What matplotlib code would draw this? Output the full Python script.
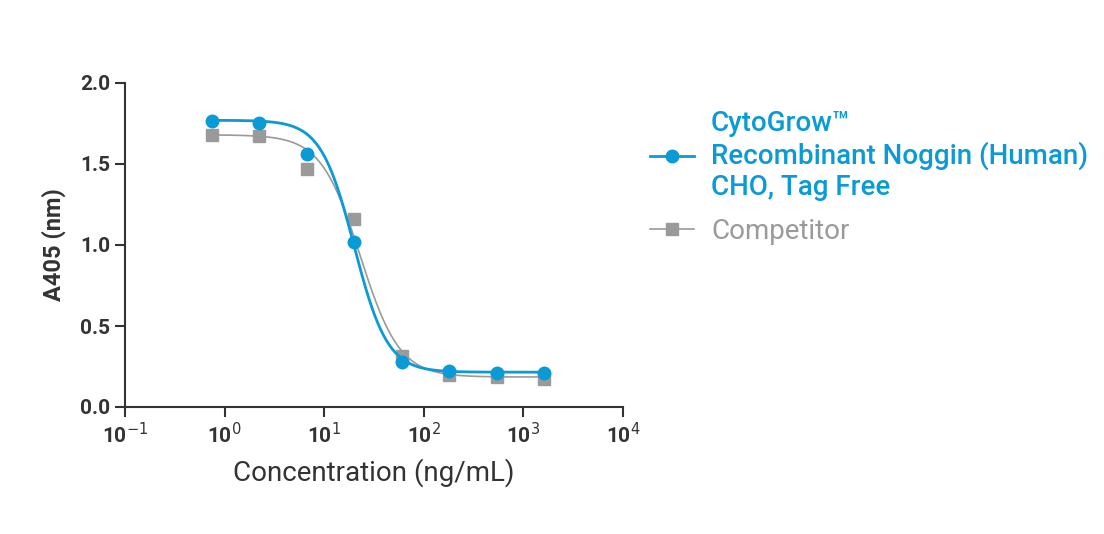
import numpy as np
import matplotlib
matplotlib.use("Agg")
import matplotlib.pyplot as plt

plt.rcParams['font.family'] = ['Roboto', 'DejaVu Sans']

conc = [0.74, 2.2, 6.7, 20, 60, 180, 540, 1620]
cyto = [1.765, 1.75, 1.56, 1.02, 0.28, 0.22, 0.21, 0.21]
comp = [1.68, 1.67, 1.47, 1.16, 0.315, 0.20, 0.185, 0.17]
# 4PL fit parameters (top, bottom, EC50, hill)
cyto_fit = (1.77, 0.215, 20.0, 2.6)
comp_fit = (1.68, 0.185, 23.0, 2.2)

blue = '#0a9ad6'
gray = '#9a9a9a'
dark = '#333333'

def fpl(x, top, bot, ec, h):
    return bot + (top - bot) / (1 + (x / ec) ** h)

fig = plt.figure(figsize=(11.04, 5.34), dpi=100)
ax = fig.add_axes([125/1104, 1-407/534, 498/1104, 324/534])
xs = np.logspace(np.log10(0.74), np.log10(1620), 400)

ax.plot(xs, fpl(xs, *comp_fit), color=gray, lw=1.2)
ax.plot(conc, comp, 's', color=gray, ms=8, label='Competitor')
ax.plot(xs, fpl(xs, *cyto_fit), color=blue, lw=2)
ax.plot(conc, cyto, 'o', color=blue, ms=9,
        label='CytoGrow™\nRecombinant Noggin (Human)\nCHO, Tag Free')

ax.set_xscale('log')
ax.set_xlim(0.1, 1e4)
ax.set_ylim(0, 2.0)
ax.set_yticks([0, 0.5, 1.0, 1.5, 2.0])
ax.set_yticklabels(['0.0', '0.5', '1.0', '1.5', '2.0'])
ax.set_xticks([0.1, 1, 10, 100, 1000, 1e4])
ax.set_xticklabels(['10$^{-1}$', '10$^{0}$', '10$^{1}$', '10$^{2}$', '10$^{3}$', '10$^{4}$'])
ax.minorticks_off()
for s in ['top', 'right']:
    ax.spines[s].set_visible(False)
for s in ['left', 'bottom']:
    ax.spines[s].set_color(dark)
    ax.spines[s].set_linewidth(1.5)
ax.tick_params(colors=dark, width=1.5, length=7, labelsize=15)
for t in ax.get_yticklabels() + ax.get_xticklabels():
    t.set_fontweight('bold')
ax.set_ylabel('A405 (nm)', fontsize=17, fontweight='bold', color=dark, labelpad=10)
ax.set_xlabel('Concentration (ng/mL)', fontsize=20, color=dark, labelpad=8)

# legend drawn manually as a legend
h, l = ax.get_legend_handles_labels()
from matplotlib.lines import Line2D
hb = Line2D([], [], color=blue, lw=2, marker='o', ms=9)
hg = Line2D([], [], color=gray, lw=1.2, marker='s', ms=8)
leg = fig.legend([hb, hg], [l[1], l[0]], loc='upper left',
                 bbox_to_anchor=(625/1104, 1-85/534), frameon=False,
                 fontsize=20, handlelength=1.6, labelspacing=0.6, handletextpad=0.6)
leg.get_texts()[0].set_color(blue)
leg.get_texts()[0].set_fontweight('medium')
leg.get_texts()[1].set_color(gray)

fig.savefig('out.png', dpi=100)
